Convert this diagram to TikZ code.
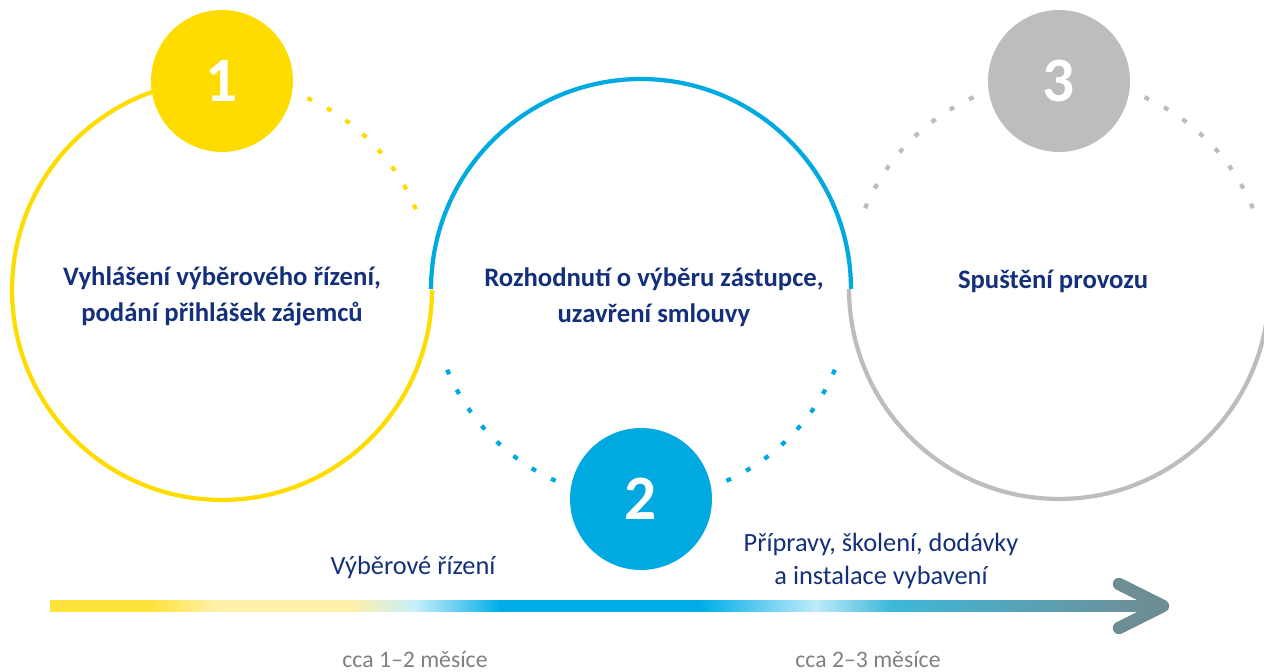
\documentclass[tikz,border=0pt]{standalone}
\usepackage{fontspec}
\setmainfont{Carlito}

\definecolor{zluta}{HTML}{FFDC00}
\definecolor{modra}{HTML}{00A9E0}
\definecolor{seda}{HTML}{BDBDBD}
\definecolor{tmava}{HTML}{14307A}
\definecolor{popis}{HTML}{808080}
\definecolor{p1}{HTML}{FFE23C}
\definecolor{p2}{HTML}{FFF1A8}
\definecolor{p3}{HTML}{C6EFFA}
\definecolor{p4}{HTML}{00ADE8}
\definecolor{p5}{HTML}{BDEBFA}
\definecolor{p6}{HTML}{3DB9D9}
\definecolor{p7}{HTML}{6E8E96}

\tikzset{
  kruh/.style={line width=0.085cm},
  tecky/.style={line width=0.085cm, dash pattern=on 0.1cm off 0.34cm},
  cislo/.style={circle, minimum size=2.84cm, inner sep=0pt, text=white,
    font=\bfseries\fontsize{36}{36}\selectfont},
  nadpis/.style={align=center, text=tmava,
    font=\bfseries\fontsize{15.2}{20.5}\selectfont},
  faze/.style={align=center, text=tmava, font=\fontsize{15}{18.5}\selectfont},
  doba/.style={text=popis, inner sep=1pt, font=\fontsize{13.5}{16}\selectfont}
}

\begin{document}
\begin{tikzpicture}[x=0.02cm, y=0.02cm]
  \useasboundingbox (0,0) rectangle (1264,672);

  \coordinate (s1) at (222,382);
  \coordinate (s2) at (641,383);
  \coordinate (s3) at (1059,383);

  \draw[zluta, kruh] ([shift={(90:4.2cm)}]s1) arc[start angle=90, end angle=360, radius=4.2cm];
  \draw[zluta, tecky] ([shift={(90:4.2cm)}]s1) arc[start angle=90, end angle=20, radius=4.2cm];
  \draw[modra, kruh] ([shift={(0:4.2cm)}]s2) arc[start angle=0, end angle=180, radius=4.2cm];
  \draw[modra, tecky] ([shift={(270:4.2cm)}]s2) arc[start angle=270, end angle=201, radius=4.2cm];
  \draw[modra, tecky] ([shift={(270:4.2cm)}]s2) arc[start angle=270, end angle=339, radius=4.2cm];
  \draw[seda, kruh] ([shift={(180:4.2cm)}]s3) arc[start angle=180, end angle=360, radius=4.2cm];
  \draw[seda, tecky] ([shift={(90:4.2cm)}]s3) arc[start angle=90, end angle=160, radius=4.2cm];
  \draw[seda, tecky] ([shift={(90:4.2cm)}]s3) arc[start angle=90, end angle=21, radius=4.2cm];

  \node[cislo, fill=zluta] (c1) at (222,591) {1};
  \node[cislo, fill=modra] (c2) at (641,173) {2};
  \node[cislo, fill=seda] (c3) at (1059,591) {3};

  \node[nadpis] (t1) at (222,376) {Vyhlášení výběrového řízení,\\podání přihlášek zájemců};
  \node[nadpis] (t2) at (654,375) {Rozhodnutí o výběru zástupce,\\uzavření smlouvy};
  \node[nadpis] (t3) at (1053,391) {Spuštění provozu};

  \foreach \a/\b/\ca/\cb in {50/150/p1/p1, 150/215/p1/p2, 215/350/p2/p2,
      350/415/p2/p3, 415/500/p3/p4, 500/700/p4/p4, 700/815/p4/p5,
      815/890/p5/p6, 890/1150/p6/p7}
    \shade[left color=\ca, right color=\cb] (\a,60.5) rectangle (\b+0.6,71.5);
  \coordinate (hrot) at (1163,66);
  \draw[p7, line width=0.25cm, line cap=round, line join=round]
    (1119,88) -- (hrot) -- (1119,44);

  \node[faze] (f1) at (413,105) {Výběrové řízení};
  \node[faze] (f2) at (881,111) {Přípravy, školení, dodávky\\a instalace vybavení};
  \node[doba] (d1) at (415,13) {cca 1–2 měsíce};
  \node[doba] (d2) at (868,13) {cca 2–3 měsíce};
\end{tikzpicture}
\end{document}
